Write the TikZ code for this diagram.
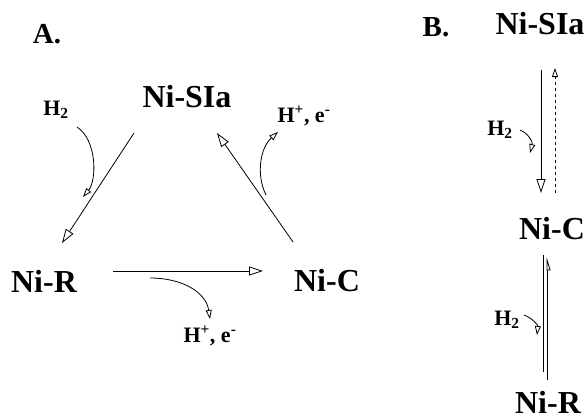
\documentclass[tikz,border=0pt]{standalone}
\usepackage{fontspec}
\setmainfont{Liberation Serif}
\usetikzlibrary{arrows.meta,calc}

\begin{document}
\begin{tikzpicture}[
  x=1pt,y=-1pt,
  state/.style={font=\fontsize{32}{36}\selectfont\bfseries,inner sep=0pt},
  panel/.style={font=\fontsize{29}{32}\selectfont\bfseries,inner sep=0pt},
  lbl/.style={font=\fontsize{22}{26}\selectfont\bfseries,inner sep=0pt},
  arr/.style={-{Triangle[open,length=14pt,width=9pt]},line width=0.8pt},
  small/.style={-{Triangle[open,length=9pt,width=6pt]},line width=0.8pt},
]
  \useasboundingbox (0,0) rectangle (586,420);

  % Panel A
  \node[panel] (labA) at (47,34) {A.};
  \node[state] (siaA) at (187,97) {Ni-SIa};
  \node[state] (nirA) at (44,281) {Ni-R};
  \node[state] (nicA) at (327,281) {Ni-C};
  \node[lbl] (h2A) at (56,110) {H\textsubscript{2}};
  \node[lbl] (hpA) at (304,116) {H\textsuperscript{+}, e\textsuperscript{-}};
  \node[lbl] (hpAb) at (210,336) {H\textsuperscript{+}, e\textsuperscript{-}};

  % Cycle arrows
  \draw[arr] ($(siaA)+(-53,36)$) -- ($(nirA)+(18,-38)$);
  \draw[arr] ($(nirA)+(69,-10)$) -- ($(nicA)+(-64,-10)$);
  \draw[arr] ($(nicA)+(-34,-39)$) -- ($(siaA)+(30,36)$);

  % Side curves
  \coordinate (h2Aend) at (83,197);
  \coordinate (hpAbeg) at (150,278);
  \coordinate (hpAtop) at (266,195);
  \draw[small] ($(h2A)+(21,17)$) .. controls (97,140) and (97,180) .. (h2Aend);
  \draw[small] (hpAbeg) .. controls (182,278) and (206,292) .. ($(hpAb)+(0,-17)$);
  \draw[small] (hpAtop) .. controls (256,175) and (260,148) .. ($(hpA)+(-26,16)$);

  % Panel B
  \node[panel] (labB) at (436,27) {B.};
  \node[state] (siaB) at (540,24) {Ni-SIa};
  \node[state] (nicB) at (552,229) {Ni-C};
  \node[state] (nirB) at (548,402) {Ni-R};
  \node[lbl] (h2B) at (500,130) {H\textsubscript{2}};
  \node[lbl] (h2Bb) at (507,320) {H\textsubscript{2}};

  % Vertical arrows
  \draw[arr] ($(siaB)+(1,46)$) -- ($(nicB)+(-11,-36)$);
  \draw[small,dashed] ($(nicB)+(3,-36)$) -- ($(siaB)+(15,44)$);
  \draw[line width=0.8pt] ($(nicB)+(-9,26)$) -- ($(nirB)+(-5,-30)$);
  \draw[-{Triangle[open,harpoon,swap,length=12pt,width=7pt]},line width=0.8pt]
    ($(nirB)+(-1,-22)$) -- ($(nicB)+(-5,28)$);

  % Small curves
  \draw[small] ($(h2B)+(20,0)$) .. controls (528,133) and (533,142) .. ($(h2B)+(30,23)$);
  \draw[small] ($(h2Bb)+(17,-5)$) .. controls (532,318) and (538,325) .. ($(h2Bb)+(30,15)$);
\end{tikzpicture}
\end{document}
